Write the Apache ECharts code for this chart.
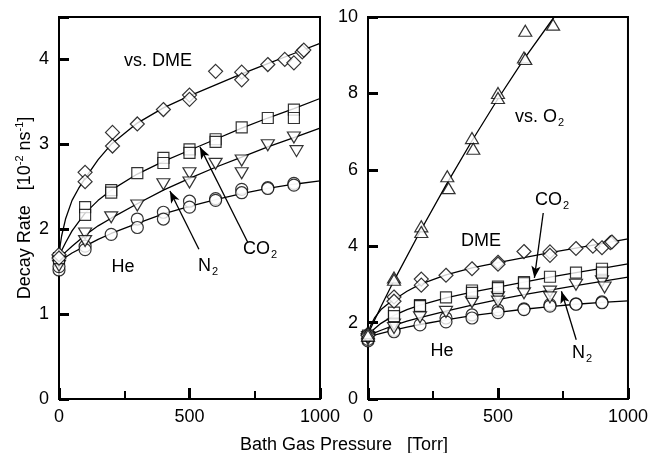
<!DOCTYPE html>
<html><head><meta charset="utf-8">
<script src="https://cdn.jsdelivr.net/npm/echarts@6/dist/echarts.min.js"></script>
<style>html,body{margin:0;padding:0;background:#fff}#c{width:651px;height:453px}</style>
</head><body><div id="c"></div>
<script>
// Pressure [Torr], decay rate [1e-2 ns^-1]
const dmeData = [[0,1.70],[0,1.66],[100,2.67],[100,2.56],[205,3.14],[205,2.98],[300,3.24],[400,3.41],[500,3.58],[500,3.53],[600,3.86],[700,3.85],[700,3.76],[800,3.94],[865,4.00],[900,3.96],[932,4.09],[938,4.11]];
const co2Data = [[0,1.66],[100,2.26],[100,2.17],[200,2.46],[200,2.43],[300,2.66],[400,2.84],[400,2.78],[500,2.94],[500,2.90],[600,3.06],[600,3.03],[700,3.20],[800,3.31],[900,3.41],[900,3.31]];
const n2Data = [[0,1.62],[0,1.57],[100,1.95],[100,1.86],[200,2.14],[300,2.28],[400,2.53],[500,2.66],[500,2.55],[600,2.77],[700,2.81],[700,2.66],[800,2.99],[900,3.08],[910,2.92]];
const heData = [[0,1.52],[0,1.56],[100,1.80],[100,1.76],[200,1.94],[300,2.12],[300,2.02],[400,2.20],[400,2.12],[500,2.33],[500,2.26],[600,2.36],[600,2.34],[700,2.47],[700,2.43],[800,2.49],[800,2.48],[900,2.54],[900,2.52]];
const o2Data = [[0,1.72],[0,1.66],[100,3.18],[100,3.12],[205,4.52],[205,4.37],[305,5.83],[310,5.52],[400,6.83],[405,6.55],[500,8.01],[500,7.88],[600,8.94],[605,8.90],[605,9.64],[712,9.80]];

// fitted curves
const dmeFit = [[0,1.68],[5,1.82],[10,1.92],[25,2.12],[50,2.34],[75,2.48],[100,2.60],[150,2.82],[200,3.00],[300,3.25],[400,3.43],[500,3.57],[600,3.70],[700,3.83],[800,3.95],[900,4.07],[1000,4.19]];
const co2Fit = [[0,1.66],[10,1.75],[25,1.84],[50,1.98],[100,2.19],[150,2.34],[200,2.46],[300,2.65],[400,2.80],[500,2.93],[600,3.06],[700,3.19],[800,3.31],[900,3.42],[1000,3.54]];
const n2Fit = [[0,1.64],[25,1.73],[50,1.80],[100,1.93],[150,2.04],[200,2.13],[300,2.30],[400,2.46],[500,2.60],[600,2.73],[700,2.85],[800,2.97],[900,3.08],[1000,3.19]];
const heFit = [[0,1.62],[25,1.67],[50,1.72],[100,1.80],[150,1.88],[200,1.95],[300,2.07],[400,2.18],[500,2.27],[600,2.35],[700,2.42],[800,2.48],[900,2.53],[1000,2.57]];
const o2Fit = [[0,1.70],[50,2.42],[100,3.10],[200,4.38],[300,5.60],[400,6.76],[500,7.86],[600,8.90],[716,10.0]];

const xTicks = [0, 500, 1000];
const yTicksLeft = [0, 1, 2, 3, 4];
const yTicksRight = [0, 2, 4, 6, 8, 10];

// arrows (from label to curve) in data coordinates
const arrowsLeft = [[[536,1.765],[425,2.45]], [[724,1.84],[540,2.97]]];
const arrowsRight = [[[674,4.87],[640,3.17]], [[801,1.55],[744,2.82]]];

const FONT = "'Liberation Sans', Arial, Helvetica, sans-serif";
const chart = echarts.init(document.getElementById('c'), null, {renderer:'canvas'});

function xAx(gi){
  return {type:'value', gridIndex:gi, min:0, max:1000, interval:500,
    axisLine:{show:true,onZero:false,lineStyle:{color:'#000',width:2}},
    axisTick:{show:true,inside:true,length:11,lineStyle:{width:3,color:'#000'}},
    minorTick:{show:true,splitNumber:2,length:8,lineStyle:{width:2,color:'#000'}},
    splitLine:{show:false}, minorSplitLine:{show:false},
    axisLabel:{margin:9,fontSize:18,color:'#000',fontFamily:FONT,showMinLabel:true,showMaxLabel:true,hideOverlap:false,
      formatter:function(v){return xTicks.indexOf(v)>=0? String(v):'';}}};
}
function yAx(gi,max,interval,ticks,extra){
  return Object.assign({type:'value', gridIndex:gi, min:0, max:max, interval:interval,
    axisLine:{show:true,onZero:false,lineStyle:{color:'#000',width:2}},
    axisTick:{show:true,inside:true,length:10,lineStyle:{width:3,color:'#000'}},
    splitLine:{show:false},
    axisLabel:{margin:10,fontSize:18,color:'#000',fontFamily:FONT,
      formatter:function(v){return ticks.indexOf(v)>=0? String(v):'';}}}, extra||{});
}
const sym = {color:'#fff',borderColor:'#000',borderWidth:1.2};
function fit(data,xi,arrows){
  const s = {type:'line', data:data, xAxisIndex:xi, yAxisIndex:xi, smooth:false,
    showSymbol:false, symbol:'none', lineStyle:{color:'#000',width:1.3,join:'round'}, z:2, silent:true, animation:false};
  if(arrows){
    s.markLine = {silent:true, animation:false, symbol:['none','arrow'], symbolSize:[7,12],
      lineStyle:{color:'#000',width:1.3,type:'solid'}, label:{show:false},
      data: arrows.map(a=>[{coord:a[0]},{coord:a[1]}])};
  }
  return s;
}
function sc(data,xi,symbol,size,rot){
  return {type:'scatter', data:data, xAxisIndex:xi, yAxisIndex:xi, symbol:symbol, symbolSize:size,
    symbolRotate:rot||0, itemStyle:sym, z:3, silent:true, animation:false};
}
function rt(text,x,y,align){
  return {type:'text', x:x, y:y, z:10, style:{text:text, textAlign:align||'left', textVerticalAlign:'middle',
    rich:{a:{fontSize:18,fontFamily:FONT,color:'#000',lineHeight:22},
          s:{fontSize:11,fontFamily:FONT,color:'#000',verticalAlign:'bottom',lineHeight:11,padding:[0,0,0,1]}},
    fill:'#000', font:'18px '+FONT}};
}

chart.setOption({
  backgroundColor:'#fff',
  animation:false,
  grid:[
    {left:59, top:17, width:261, height:382, show:true, borderColor:'#000', borderWidth:2},
    {left:368, top:17, width:261, height:382, show:true, borderColor:'#000', borderWidth:2}
  ],
  xAxis:[xAx(0), xAx(1)],
  yAxis:[
    yAx(0,4.5,1,yTicksLeft,{name:'{a|Decay Rate   [10}{p|-2}{a| ns}{p|-1}{a|]}', nameLocation:'middle', nameGap:23, nameRotate:90,
      nameTextStyle:{rich:{a:{fontSize:18,fontFamily:FONT,color:'#000',lineHeight:22},
        p:{fontSize:11,fontFamily:FONT,color:'#000',verticalAlign:'top',lineHeight:11}}}}),
    yAx(1,10,2,yTicksRight)
  ],
  series:[
    fit(dmeFit,0), fit(co2Fit,0), fit(n2Fit,0,arrowsLeft), fit(heFit,0),
    sc(heData,0,'circle',12), sc(n2Data,0,'triangle',[13,11],180), sc(co2Data,0,'rect',11), sc(dmeData,0,'diamond',14),
    fit(o2Fit,1), fit(dmeFit,1), fit(co2Fit,1), fit(n2Fit,1,arrowsRight), fit(heFit,1),
    sc(heData,1,'circle',12), sc(n2Data,1,'triangle',[13,11],180), sc(co2Data,1,'rect',11), sc(dmeData,1,'diamond',14),
    sc(o2Data,1,'triangle',[13,11])
  ],
  graphic:[
    rt('{a|vs. DME}',158,61,'center'),
    rt('{a|He}',123,267,'center'),
    rt('{a|N}{s|2}',198,266),
    rt('{a|CO}{s|2}',243,249),
    rt('{a|vs. O}{s|2}',515,117),
    rt('{a|CO}{s|2}',535,200),
    rt('{a|DME}',481,241,'center'),
    rt('{a|He}',442,351,'center'),
    rt('{a|N}{s|2}',572,353),
    rt('{a|Bath Gas Pressure   [Torr]}',344,445,'center')
  ]
});
</script></body></html>
